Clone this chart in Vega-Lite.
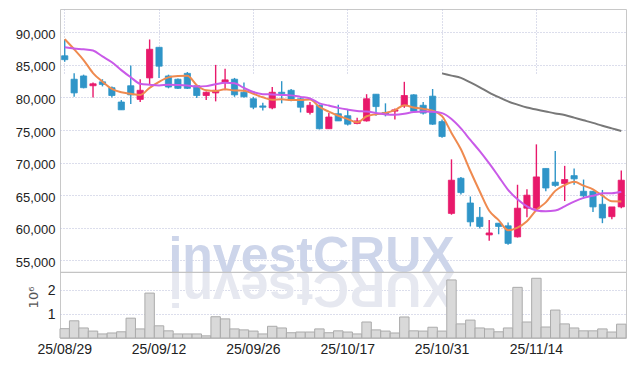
{
  "$schema": "https://vega.github.io/schema/vega-lite/v6.json",
  "width": 566,
  "height": 329,
  "autosize": {"type": "none"},
  "padding": {"left": 60, "top": 9, "right": 8, "bottom": 28},
  "background": "white",
  "config": {
    "view": {"stroke": "#c8c8c8", "strokeWidth": 1},
    "axis": {"labelFont": "Liberation Sans", "labelColor": "#222222", "gridColor": "#b8bdd8", "gridDash": [1, 2], "gridWidth": 1, "domain": false, "ticks": false}
  },
  "data": {"values": [
    {"d":"25/08/29","o":86400,"h":88900,"l":85500,"c":85800,"v":0.39,"m5":88950,"m10":87700},
    {"d":"25/09/01","o":82800,"h":83700,"l":80100,"c":80700,"v":0.72,"m5":87400,"m10":87500},
    {"d":"25/09/02","o":83300,"h":83500,"l":81400,"c":81500,"v":0.42,"m5":85750,"m10":87400},
    {"d":"25/09/03","o":81800,"h":82300,"l":80000,"c":82100,"v":0.29,"m5":83750,"m10":87200},
    {"d":"25/09/04","o":82400,"h":82800,"l":81700,"c":82000,"v":0.17,"m5":82420,"m10":86300},
    {"d":"25/09/05","o":81500,"h":81700,"l":80000,"c":80300,"v":0.21,"m5":81310,"m10":85400},
    {"d":"25/09/08","o":79300,"h":79600,"l":78100,"c":78100,"v":0.26,"m5":80790,"m10":84200},
    {"d":"25/09/09","o":81800,"h":84900,"l":79000,"c":80400,"v":0.83,"m5":80560,"m10":83100},
    {"d":"25/09/10","o":79700,"h":82800,"l":79300,"c":81100,"v":0.38,"m5":80380,"m10":82100},
    {"d":"25/09/11","o":83000,"h":88900,"l":82000,"c":87400,"v":1.88,"m5":81480,"m10":81950},
    {"d":"25/09/12","o":87700,"h":87700,"l":83000,"c":84800,"v":0.51,"m5":82390,"m10":81850},
    {"d":"25/09/15","o":83300,"h":83500,"l":81400,"c":81600,"v":0.30,"m5":83080,"m10":81940},
    {"d":"25/09/16","o":82800,"h":82900,"l":81300,"c":81400,"v":0.17,"m5":83280,"m10":81920},
    {"d":"25/09/17","o":83700,"h":83900,"l":81300,"c":81400,"v":0.17,"m5":83320,"m10":81850},
    {"d":"25/09/18","o":81800,"h":81900,"l":79900,"c":80300,"v":0.17,"m5":81880,"m10":81680},
    {"d":"25/09/19","o":80300,"h":80900,"l":79600,"c":80800,"v":0.09,"m5":81090,"m10":81740},
    {"d":"25/09/22","o":80700,"h":85000,"l":79400,"c":81100,"v":0.89,"m5":80990,"m10":82040},
    {"d":"25/09/23","o":82300,"h":84400,"l":81100,"c":82700,"v":0.80,"m5":81260,"m10":82270},
    {"d":"25/09/24","o":82800,"h":83000,"l":80100,"c":80400,"v":0.38,"m5":81070,"m10":82190},
    {"d":"25/09/25","o":80800,"h":82300,"l":80000,"c":80100,"v":0.34,"m5":81030,"m10":81460},
    {"d":"25/09/26","o":79800,"h":80100,"l":78200,"c":78500,"v":0.29,"m5":80560,"m10":80830},
    {"d":"25/09/29","o":78700,"h":79200,"l":78000,"c":78500,"v":0.17,"m5":80030,"m10":80510},
    {"d":"25/09/30","o":78400,"h":81600,"l":78200,"c":80800,"v":0.49,"m5":79650,"m10":80460},
    {"d":"25/10/01","o":80800,"h":82500,"l":79100,"c":80600,"v":0.42,"m5":79710,"m10":80390},
    {"d":"25/10/02","o":81100,"h":81300,"l":79400,"c":79600,"v":0.22,"m5":79610,"m10":80320},
    {"d":"25/10/10","o":79800,"h":79900,"l":77700,"c":78500,"v":0.25,"m5":79600,"m10":80080},
    {"d":"25/10/13","o":77700,"h":79300,"l":77400,"c":78800,"v":0.25,"m5":79670,"m10":79850},
    {"d":"25/10/14","o":78800,"h":78900,"l":75100,"c":75200,"v":0.38,"m5":78550,"m10":79100},
    {"d":"25/10/15","o":75200,"h":77600,"l":75200,"c":77000,"v":0.22,"m5":77820,"m10":78760},
    {"d":"25/10/16","o":77500,"h":78900,"l":76400,"c":76400,"v":0.30,"m5":77190,"m10":78400},
    {"d":"25/10/17","o":77200,"h":78100,"l":75700,"c":75900,"v":0.25,"m5":76680,"m10":78140},
    {"d":"25/10/20","o":76000,"h":76900,"l":75900,"c":76400,"v":0.17,"m5":76180,"m10":77930},
    {"d":"25/10/21","o":76400,"h":80500,"l":76300,"c":79800,"v":0.67,"m5":77110,"m10":77830},
    {"d":"25/10/22","o":80500,"h":80500,"l":77200,"c":78600,"v":0.34,"m5":77420,"m10":77620},
    {"d":"25/10/23","o":77700,"h":79100,"l":77100,"c":77400,"v":0.29,"m5":77610,"m10":77400},
    {"d":"25/10/24","o":77900,"h":78300,"l":76600,"c":78100,"v":0.21,"m5":78050,"m10":77360},
    {"d":"25/10/27","o":78700,"h":82400,"l":78400,"c":80300,"v":0.88,"m5":78820,"m10":77500},
    {"d":"25/10/28","o":80400,"h":80500,"l":77800,"c":77900,"v":0.30,"m5":78460,"m10":77780},
    {"d":"25/10/29","o":78800,"h":79300,"l":77400,"c":77600,"v":0.29,"m5":78250,"m10":77840},
    {"d":"25/10/30","o":80200,"h":81300,"l":75800,"c":75900,"v":0.45,"m5":77970,"m10":77790},
    {"d":"25/10/31","o":76300,"h":76600,"l":73800,"c":74000,"v":0.29,"m5":77140,"m10":77590,"m60":83700},
    {"d":"25/11/03","o":62200,"h":70500,"l":62000,"c":67300,"v":2.43,"m5":74550,"m10":76690,"m60":83350},
    {"d":"25/11/04","o":67600,"h":67800,"l":65100,"c":65400,"v":0.59,"m5":72040,"m10":75250,"m60":83000},
    {"d":"25/11/05","o":63800,"h":64800,"l":60200,"c":60900,"v":0.75,"m5":68710,"m10":73480,"m60":82300},
    {"d":"25/11/06","o":61600,"h":63200,"l":59900,"c":60200,"v":0.42,"m5":65560,"m10":71760,"m60":81550},
    {"d":"25/11/07","o":58900,"h":61200,"l":58000,"c":59200,"v":0.38,"m5":62600,"m10":69870,"m60":80750},
    {"d":"25/11/10","o":60700,"h":60700,"l":59000,"c":60200,"v":0.26,"m5":61170,"m10":67860,"m60":80050},
    {"d":"25/11/11","o":60300,"h":60800,"l":57400,"c":57600,"v":0.42,"m5":59620,"m10":65830,"m60":79400},
    {"d":"25/11/12","o":58600,"h":66600,"l":58500,"c":63000,"v":2.12,"m5":60030,"m10":64370,"m60":78900},
    {"d":"25/11/13","o":63000,"h":65900,"l":61600,"c":65000,"v":0.67,"m5":61000,"m10":63280,"m60":78450},
    {"d":"25/11/14","o":63000,"h":72800,"l":62700,"c":67800,"v":2.50,"m5":62720,"m10":62660,"m60":78150},
    {"d":"25/11/17","o":69100,"h":69100,"l":65600,"c":66100,"v":0.46,"m5":63890,"m10":62530,"m60":77850},
    {"d":"25/11/18","o":67000,"h":71800,"l":66300,"c":66500,"v":1.17,"m5":65660,"m10":62640,"m60":77550},
    {"d":"25/11/19","o":66800,"h":69500,"l":64100,"c":67400,"v":0.59,"m5":66550,"m10":63290,"m60":77300},
    {"d":"25/11/20","o":68000,"h":69100,"l":66600,"c":67500,"v":0.42,"m5":67050,"m10":64020,"m60":76900},
    {"d":"25/11/21","o":65600,"h":67400,"l":64500,"c":64900,"v":0.30,"m5":66460,"m10":64590,"m60":76500},
    {"d":"25/11/24","o":65600,"h":65600,"l":62400,"c":63200,"v":0.30,"m5":65900,"m10":64900,"m60":76100},
    {"d":"25/11/25","o":63600,"h":65800,"l":60700,"c":61500,"v":0.38,"m5":64920,"m10":65290,"m60":75650},
    {"d":"25/11/26","o":61700,"h":63200,"l":61300,"c":63200,"v":0.25,"m5":64070,"m10":65310,"m60":75250},
    {"d":"25/11/27","o":63200,"h":68800,"l":63000,"c":67300,"v":0.58,"m5":64040,"m10":65540,"m60":74850}
  ]},
  "layer": [
    {
      "layer": [
        {
          "data": {"values": [{"t": "investCRUX"}]},
          "mark": {"type": "text", "font": "Liberation Sans", "fontWeight": "bold", "fontSize": 50, "align": "left", "baseline": "alphabetic", "fill": "#cdd5ea"},
          "encoding": {
            "x": {"datum": "25/09/15", "type": "ordinal"},
            "y": {"datum": 2.75, "type": "quantitative", "scale": {"domain": [0, 2.75], "range": [329, 263.3], "nice": false, "zero": true}},
            "text": {"field": "t"}
          }
        },
        {
          "data": {"values": [{"t": "XURCtsevni"}]},
          "mark": {"type": "text", "font": "Liberation Sans", "fontWeight": "bold", "fontSize": 50, "align": "right", "baseline": "alphabetic", "angle": 180, "fill": "#e6e8f0"},
          "encoding": {
            "x": {"datum": "25/09/15", "type": "ordinal"},
            "y": {"datum": 2.75, "type": "quantitative", "scale": {"domain": [0, 2.75], "range": [329, 263.3], "nice": false, "zero": true}},
            "text": {"field": "t"}
          }
        },
        {
          "data": {"values": [{"t": "sep"}]},
          "mark": {"type": "rule", "stroke": "#c4c4c4", "strokeWidth": 1.3},
          "encoding": {
            "y": {"datum": 2.75, "type": "quantitative", "scale": {"domain": [0, 2.75], "range": [329, 263.3], "nice": false, "zero": true}}
          }
        },
        {
          "mark": {"type": "bar", "fill": "#d9d9d9", "stroke": "#ababab", "strokeWidth": 1},
          "encoding": {
            "x": {"field": "d", "type": "ordinal", "title": null, "scale": {"paddingInner": 0, "paddingOuter": 0},
              "axis": {"values": ["25/08/29", "25/09/12", "25/09/26", "25/10/17", "25/10/31", "25/11/14"], "grid": true, "bandPosition": 0.5, "labelAngle": 0, "labelAlign": "center", "labelBaseline": "top", "labelFontSize": 14, "labelPadding": 4, "labelColor": "#222222", "title": null}},
            "y": {"field": "v", "type": "quantitative", "title": null, "scale": {"domain": [0, 2.75], "range": [329, 263.3], "nice": false, "zero": true},
              "axis": {"orient": "left", "values": [1, 2], "format": "d", "grid": true, "labelFontSize": 14, "labelPadding": 5, "labelColor": "#222222",
                "title": "10⁶", "titleFont": "DejaVu Sans", "titleFontSize": 13, "titleFontWeight": "normal", "titleColor": "#555555", "titleAngle": 270, "titleX": -27, "titleY": 288, "titleAlign": "center", "titleBaseline": "middle"}}
          }
        }
      ]
    },
    {
      "layer": [
        {
          "mark": {"type": "rule", "strokeWidth": 1.4},
          "encoding": {
            "x": {"field": "d", "type": "ordinal", "title": null},
            "y": {"field": "l", "type": "quantitative", "title": null, "scale": {"domain": [53160, 93580], "range": [263.3, 0], "nice": false, "zero": false},
              "axis": {"orient": "left", "values": [55000, 60000, 65000, 70000, 75000, 80000, 85000, 90000], "format": ",d", "grid": true, "labelFontSize": 13, "labelPadding": 5, "labelOffset": 2, "title": null}},
            "y2": {"field": "h"},
            "stroke": {"condition": {"test": "datum.c >= datum.o", "value": "#e8196b"}, "value": "#2f95c8"}
          }
        },
        {
          "mark": {"type": "bar", "width": {"band": 0.66}, "strokeWidth": 0.8},
          "encoding": {
            "x": {"field": "d", "type": "ordinal", "title": null},
            "y": {"field": "o", "type": "quantitative", "title": null, "scale": {"domain": [53160, 93580], "range": [263.3, 0], "nice": false, "zero": false}},
            "y2": {"field": "c"},
            "fill": {"condition": {"test": "datum.c >= datum.o", "value": "#e8196b"}, "value": "#2f95c8"},
            "stroke": {"condition": {"test": "datum.c >= datum.o", "value": "#e8196b"}, "value": "#2f95c8"}
          }
        },
        {
          "mark": {"type": "line", "stroke": "#ef8a4f", "strokeWidth": 2, "interpolate": "monotone"},
          "encoding": {
            "x": {"field": "d", "type": "ordinal", "title": null},
            "y": {"field": "m5", "type": "quantitative", "title": null, "scale": {"domain": [53160, 93580], "range": [263.3, 0], "nice": false, "zero": false}}
          }
        },
        {
          "mark": {"type": "line", "stroke": "#c95ae8", "strokeWidth": 2, "interpolate": "monotone"},
          "encoding": {
            "x": {"field": "d", "type": "ordinal", "title": null},
            "y": {"field": "m10", "type": "quantitative", "title": null, "scale": {"domain": [53160, 93580], "range": [263.3, 0], "nice": false, "zero": false}}
          }
        },
        {
          "transform": [{"filter": "isValid(datum.m60)"}],
          "mark": {"type": "line", "stroke": "#787878", "strokeWidth": 2, "interpolate": "monotone"},
          "encoding": {
            "x": {"field": "d", "type": "ordinal", "title": null},
            "y": {"field": "m60", "type": "quantitative", "title": null, "scale": {"domain": [53160, 93580], "range": [263.3, 0], "nice": false, "zero": false}}
          }
        }
      ]
    }
  ],
  "resolve": {"scale": {"y": "independent"}, "axis": {"y": "independent"}}
}
